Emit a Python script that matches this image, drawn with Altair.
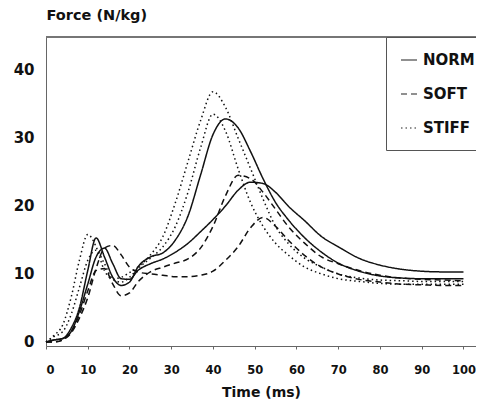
import altair as alt
import pandas as pd

# Time grid (ms)
T = [0, 2, 4, 6, 8, 10, 12, 14, 16, 18, 20, 22, 25, 28, 31, 34, 37, 40, 43, 46,
     49, 52, 55, 58, 62, 66, 70, 75, 80, 85, 90, 95, 100]

# Force (N/kg) curves
NORM_1 = [0, 0.3, 0.5, 2, 5, 10.5, 15.3, 12.5, 9.5, 8.3, 8.8, 11, 12.5, 13.1, 15, 18.5, 24.5, 30.5, 32.8, 31.5,
          28, 24, 20.5, 18, 15.3, 13.2, 11.6, 10.4, 9.7, 9.4, 9.3, 9.3, 9.3]
NORM_2 = [0, 0.3, 0.5, 1.5, 4.5, 8.5, 12.5, 13.8, 11.5, 9.3, 9.2, 10.5, 11.5, 12.2, 13.2, 14.5, 16.2, 18, 20, 22.3,
          23.5, 23.3, 22, 20, 17.8, 15.5, 14, 12.3, 11.3, 10.7, 10.4, 10.3, 10.3]
SOFT_1 = [0, 0, 0.3, 1.3, 3.5, 6.5, 10.8, 13.8, 14.2, 12.8, 11, 10.3, 10, 9.8, 9.6, 9.6, 9.8, 10.4, 12, 14,
          16.8, 18.3, 17, 15, 12.7, 11, 10, 9.2, 8.8, 8.5, 8.4, 8.3, 8.3]
SOFT_2 = [0, 0, 0.3, 1.5, 4, 7.5, 10.5, 10.8, 8.5, 6.8, 7.2, 8.8, 10.3, 11, 11.6, 12.2, 13.8, 17, 21.5, 24.5,
          24, 22, 19.5, 17, 14.5, 12.5, 11.5, 10.5, 9.8, 9.4, 9.2, 9.1, 9.0]
STIFF_1 = [0, 1, 2.5, 6.5, 12, 15.8, 14, 10.5, 9.3, 9.5, 10.2, 11, 12.8, 15.5, 20.5, 26.5, 32.5, 36.8, 34.5, 30,
           25.5, 21, 17, 14.5, 12.3, 11, 10, 9.4, 9.1, 9, 8.9, 8.9, 8.9]
STIFF_2 = [0, 0.8, 1.5, 4, 8, 12, 13.5, 11.5, 9.2, 8.8, 9.5, 10.8, 12.3, 14, 17, 22, 28.5, 33.5, 31, 25.5,
           20.5, 17, 14.5, 12.8, 11, 10, 9.3, 8.9, 8.6, 8.5, 8.5, 8.5, 8.5]

CONDITIONS = ["NORM", "SOFT", "STIFF"]
X_TICKS = [0, 10, 20, 30, 40, 50, 60, 70, 80, 90, 100]
Y_TICKS = [0, 10, 20, 30, 40]

curves = [("NORM", "NORM_1", NORM_1), ("NORM", "NORM_2", NORM_2),
          ("SOFT", "SOFT_1", SOFT_1), ("SOFT", "SOFT_2", SOFT_2),
          ("STIFF", "STIFF_1", STIFF_1), ("STIFF", "STIFF_2", STIFF_2)]
rows = []
for cond, cid, vals in curves:
    for t, v in zip(T, vals):
        rows.append({"condition": cond, "curve": cid, "t": t, "force": v})
df = pd.DataFrame(rows)

FONT = "DejaVu Sans"

lines = alt.Chart(df).mark_line(interpolate="monotone", strokeWidth=1.5, color="#111").encode(
    x=alt.X("t:Q", scale=alt.Scale(domain=[0, 103], nice=False, zero=False),
            axis=alt.Axis(values=X_TICKS, title="Time (ms)", grid=False, labelFont=FONT,
                          labelFontWeight="bold", labelFontSize=11.5, labelColor="#111",
                          labelPadding=15, tickSize=3, tickColor="#666", domainColor="#666",
                          titleFont=FONT, titleFontWeight="bold", titleFontSize=14, titleColor="#111",
                          titleY=46, titleBaseline="middle")),
    y=alt.Y("force:Q", scale=alt.Scale(domain=[-0.6, 44.85], nice=False, zero=False),
            axis=alt.Axis(values=Y_TICKS, title="Force (N/kg)", grid=False, labelFont=FONT,
                          labelFontWeight="bold", labelFontSize=15, labelColor="#111",
                          labelPadding=12, ticks=False, domainColor="#666",
                          titleFont=FONT, titleFontWeight="bold", titleFontSize=14.5, titleColor="#111",
                          titleAngle=0, titleAlign="left", titleBaseline="middle",
                          titleX=0, titleY=-22)),
    strokeDash=alt.StrokeDash("condition:N",
                              scale=alt.Scale(domain=CONDITIONS, range=[[1, 0], [6, 4], [1.5, 3]]),
                              legend=alt.Legend(title=None, orient="none", legendX=340, legendY=0,
                                                strokeColor="#555", fillColor="white", padding=14,
                                                symbolType="stroke", symbolSize=256,
                                                symbolStrokeWidth=1.2, symbolStrokeColor="#222",
                                                labelFont=FONT, labelFontWeight="bold",
                                                labelFontSize=15, labelColor="#111",
                                                labelOffset=5, rowPadding=17)),
    detail="curve:N",
)

top_rule = alt.Chart(df).mark_rule(color="#777", strokeWidth=1).encode(
    x=alt.value(0), x2=alt.value(430), y=alt.value(0)
)

chart = alt.layer(top_rule, lines).properties(
    width=430, height=309,
    padding={"left": 38, "top": 29, "right": 0, "bottom": 53},
    autosize=alt.AutoSizeParams(type="none"),
).configure_view(stroke=None).configure(background="white")

chart.save("out.html", embed_options={"renderer": "svg", "actions": False})
